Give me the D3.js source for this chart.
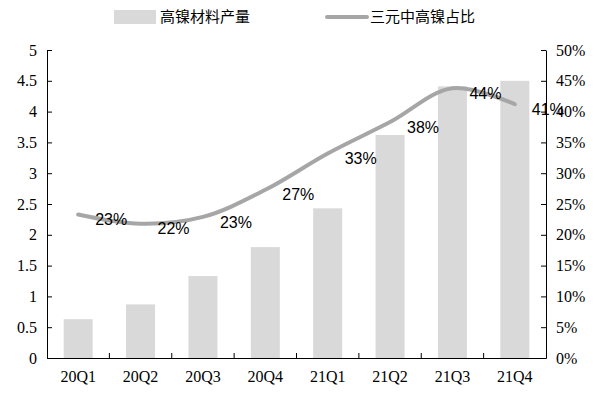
<!DOCTYPE html>
<html>
<head>
<meta charset="utf-8">
<script src="https://cdn.jsdelivr.net/npm/d3@7"></script>
<style>
  body { margin: 0; background: #fff; }
  svg text { fill: #000; }
</style>
</head>
<body>
<script>
// data
var quarters = ["20Q1", "20Q2", "20Q3", "20Q4", "21Q1", "21Q2", "21Q3", "21Q4"];
var output = [0.63, 0.87, 1.33, 1.80, 2.43, 3.62, 4.41, 4.50];
var share = [0.233, 0.218, 0.229, 0.273, 0.332, 0.383, 0.438, 0.412];
var shareLabels = ["23%", "22%", "23%", "27%", "33%", "38%", "44%", "41%"];
var leftTicks = [0, 0.5, 1, 1.5, 2, 2.5, 3, 3.5, 4, 4.5, 5];
var rightTicks = [0, 0.05, 0.1, 0.15, 0.2, 0.25, 0.3, 0.35, 0.4, 0.45, 0.5];
var legendNames = ["高镍材料产量", "三元中高镍占比"];

var W = 597, H = 393;
var plotL = 47, plotR = 546, plotT = 50, plotB = 358;

var svg = d3.select("body").append("svg")
    .attr("width", W)
    .attr("height", H);

var xb = d3.scaleBand().domain(quarters).range([plotL, plotR]);
var y = d3.scaleLinear().domain([0, 5]).range([plotB, plotT]);
var y2 = d3.scaleLinear().domain([0, 0.5]).range([plotB, plotT]);
var barW = 29;

// bars
svg.selectAll(".bar")
    .data(output)
  .enter().append("rect")
    .attr("class", "bar")
    .attr("x", function(d, i) { return xb(quarters[i]) + xb.bandwidth() / 2 - barW / 2; })
    .attr("width", barW)
    .attr("y", function(d) { return y(d); })
    .attr("height", function(d) { return plotB - y(d); })
    .attr("fill", "#d9d9d9");

// line
var line = d3.line()
    .x(function(d, i) { return xb(quarters[i]) + xb.bandwidth() / 2; })
    .y(function(d) { return y2(d); })
    .curve(d3.curveCatmullRom);

svg.append("path")
    .datum(share)
    .attr("d", line)
    .attr("fill", "none")
    .attr("stroke", "#a6a6a6")
    .attr("stroke-width", 4)
    .attr("stroke-linecap", "round");

// data labels
svg.selectAll(".lbl")
    .data(share)
  .enter().append("text")
    .attr("x", function(d, i) { return xb(quarters[i]) + xb.bandwidth() / 2 + 17; })
    .attr("y", function(d) { return y2(d) + 5; })
    .attr("dy", "0.35em")
    .style("font-family", "'Liberation Sans', Arial, sans-serif")
    .style("font-size", "16px")
    .text(function(d, i) { return shareLabels[i]; });

// axes
var serif = "'Liberation Serif', 'Times New Roman', serif";

var gl = svg.append("g")
    .attr("transform", "translate(" + plotL + ",0)")
    .call(d3.axisLeft(y).tickValues(leftTicks).tickSizeInner(-5).tickSizeOuter(0).tickPadding(10)
      .tickFormat(d3.format("")));
var gr = svg.append("g")
    .attr("transform", "translate(" + plotR + ",0)")
    .call(d3.axisRight(y2).tickValues(rightTicks).tickSizeInner(-5).tickSizeOuter(0).tickPadding(10)
      .tickFormat(d3.format(".0%")));
var gx = svg.append("g")
    .attr("transform", "translate(0," + plotB + ")")
    .call(d3.axisBottom(xb).tickSize(0).tickPadding(13));

// category separators on x axis
gx.selectAll(".sep")
    .data(quarters.slice(1))
  .enter().append("line")
    .attr("x1", function(d) { return xb(d); })
    .attr("x2", function(d) { return xb(d); })
    .attr("y1", 0)
    .attr("y2", -5)
    .attr("stroke", "#000");

[gl, gr, gx].forEach(function(g) {
  g.selectAll("text")
    .style("font-family", serif)
    .style("font-size", "16px")
    .attr("fill", "#000");
  g.selectAll("path, line").attr("stroke", "#000");
});

// legend
var lg = svg.append("g");
lg.append("rect")
    .attr("x", 114).attr("y", 10)
    .attr("width", 42).attr("height", 14)
    .attr("fill", "#d9d9d9");
lg.append("text")
    .attr("x", 160).attr("y", 17).attr("dy", "0.35em")
    .style("font-family", "'Noto Sans CJK SC', sans-serif")
    .style("font-size", "15px")
    .text(legendNames[0]);
lg.append("line")
    .attr("x1", 327).attr("x2", 367)
    .attr("y1", 17).attr("y2", 17)
    .attr("stroke", "#a6a6a6")
    .attr("stroke-width", 4)
    .attr("stroke-linecap", "round");
lg.append("text")
    .attr("x", 370).attr("y", 17).attr("dy", "0.35em")
    .style("font-family", "'Noto Sans CJK SC', sans-serif")
    .style("font-size", "15px")
    .text(legendNames[1]);
</script>
</body>
</html>
